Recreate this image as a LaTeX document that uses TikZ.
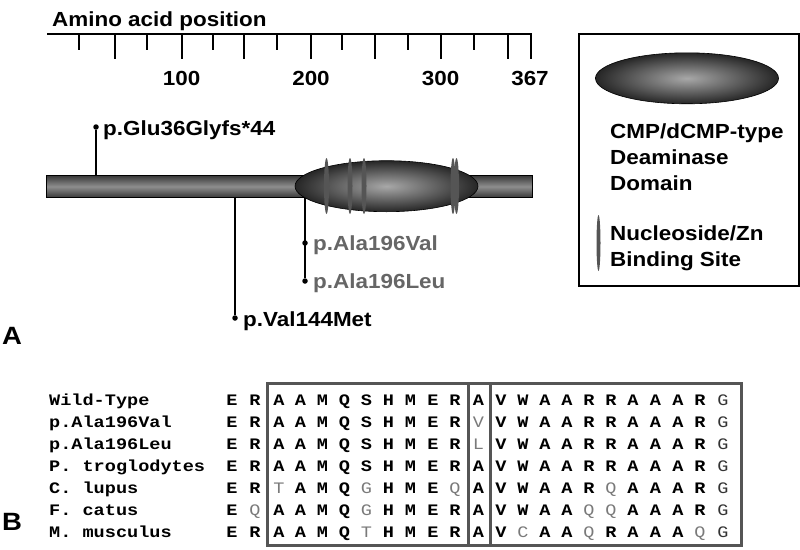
\documentclass[tikz,border=0pt]{standalone}
\usepackage{fontspec}
\setmainfont{Liberation Sans}[FakeStretch=1.1]
\newfontfamily\seqfont{Liberation Mono}[FakeStretch=1.16]
\usetikzlibrary{shapes.geometric}
\definecolor{barDark}{HTML}{3A3A3A}
\definecolor{barLight}{HTML}{8E8E8E}
\definecolor{domDark}{HTML}{262626}
\definecolor{domLight}{HTML}{A8A8A8}
\definecolor{siteGray}{HTML}{555555}
\definecolor{mutGray}{HTML}{666666}
\definecolor{resGray}{HTML}{7A7A7A}
\definecolor{endGray}{HTML}{333333}
\definecolor{boxGray}{HTML}{555555}
\newcommand\resgray[1]{{\mdseries\color{resGray}#1}}
\newcommand\resend[1]{{\mdseries\color{endGray}#1}}
\def\colx{{232,255,279,300.5,322.5,344.5,366.5,388.5,410.5,433,455,478.5,501,523,545,567,589,611,633,655.5,678,700,723}}
\newcommand\resrow[3]{%
  \pgfmathsetmacro\yy{405+22*#1}%
  \node[seqlabel] (lab#1) at (49,\yy) {#2};%
  \foreach \rr [count=\k from 0] in {#3} {%
    \pgfmathsetmacro\xx{\colx[\k]}%
    \node[res] (r#1-\k) at (\xx,\yy) {\rr};%
  }%
}
\tikzset{
  txt/.style={inner sep=0, anchor=base west, font=\bfseries\fontsize{20.4}{24}\selectfont},
  num/.style={inner sep=0, font=\bfseries\fontsize{20.4}{24}\selectfont},
  panel/.style={inner sep=0, font=\bfseries\fontsize{25}{28}\selectfont},
  seqlabel/.style={inner sep=0, anchor=base west, font=\seqfont\bfseries\fontsize{16}{20}\selectfont},
  res/.style={inner sep=0, anchor=base, font=\seqfont\bfseries\fontsize{16}{20}\selectfont},
  ruler/.style={line width=1.7pt},
  stem/.style={line width=1.8pt},
  mutdot/.style={circle, fill=black, inner sep=0, minimum size=5.5pt},
  protbar/.style={rectangle, draw=black, line width=0.6pt, top color=barDark, bottom color=barDark, middle color=barLight, inner sep=0},
  domshape/.style={ellipse, draw=black, line width=0.6pt, inner color=domLight, outer color=domDark, minimum width=183pt, minimum height=51pt, inner sep=0},
  site/.style={ellipse, fill=siteGray, inner sep=0, minimum width=5pt, minimum height=56pt},
  legsite/.style={ellipse, fill=siteGray, inner sep=0, minimum width=4pt, minimum height=56pt},
  alnbox/.style={draw=boxGray, line width=3pt},
}
\begin{document}
\begin{tikzpicture}[x=1pt,y=-1pt]
\useasboundingbox (0,0) rectangle (800,549);
% ---------- ruler ----------
\node[txt] (axislabel) at (52,26) {Amino acid position};
\draw[ruler] (47,34) -- (532,34);
\foreach \t in {79,147,213,277,342,408,474} \draw[ruler] (\t,34) -- (\t,50);
\foreach \t in {115,182,244,311,375,441,508,531} \draw[ruler] (\t,34) -- (\t,59);
\node[num] (n100) at (181.7,78) {100};
\node[num] (n200) at (311,78) {200};
\node[num] (n300) at (440.7,78) {300};
\node[num] (n367) at (530,78) {367};
% ---------- protein ----------
\node[protbar, minimum width=486pt, minimum height=21.5pt] (bar) at (289.5,186.5) {};
% mutations
\node[mutdot] (dGlu) at (96,127) {};
\node[txt] (tGlu) at (103,135) {p.Glu36Glyfs*44};
\draw[stem] (dGlu) -- (dGlu |- bar.north);
\node[mutdot] (dVal) at (235,318) {};
\node[txt] (tVal) at (243,326.5) {p.Val144Met};
\draw[stem] (dVal) -- (dVal |- bar.south);
\node[mutdot] (dA1) at (305,243) {};
\node[mutdot] (dA2) at (305,281) {};
\node[txt, text=mutGray] (tA1) at (313,250) {p.Ala196Val};
\node[txt, text=mutGray] (tA2) at (313,288.3) {p.Ala196Leu};
\coordinate (stemtop) at (305,194);
\draw[stem] (stemtop) -- (dA2);
% domain and sites
\node[domshape] (dom) at (386.5,186.2) {};
\foreach \s/\x in {1/326.5,2/350,3/364,4/453,5/456.5}
  \node[site] (site\s) at (\x,186) {};
% ---------- legend ----------
\draw[line width=2pt] (578.5,34) rectangle (799,285.5);
\node[domshape] (legdom) at (687,78.3) {};
\node[txt] (lg1) at (610,138) {CMP/dCMP-type};
\node[txt] (lg2) at (610,164.5) {Deaminase};
\node[txt] (lg3) at (610,190.5) {Domain};
\node[legsite] (legs) at (598.5,243) {};
\node[txt] (lg4) at (610,240) {Nucleoside/Zn};
\node[txt] (lg5) at (610,266.5) {Binding Site};
% ---------- panel labels ----------
\node[panel] (pA) at (12,336) {A};
\node[panel] (pB) at (12,522) {B};
% ---------- alignment ----------
\draw[alnbox] (267,383.5) rectangle (741,545);
\draw[alnbox] (468,383.5) rectangle (490.5,545);
\resrow{0}{Wild-Type}{E,R,A,A,M,Q,S,H,M,E,R,A,V,W,A,A,R,R,A,A,A,R,\resend{G}}
\resrow{1}{p.Ala196Val}{E,R,A,A,M,Q,S,H,M,E,R,\resgray{V},V,W,A,A,R,R,A,A,A,R,\resend{G}}
\resrow{2}{p.Ala196Leu}{E,R,A,A,M,Q,S,H,M,E,R,\resgray{L},V,W,A,A,R,R,A,A,A,R,\resend{G}}
\resrow{3}{P. troglodytes}{E,R,A,A,M,Q,S,H,M,E,R,A,V,W,A,A,R,R,A,A,A,R,\resend{G}}
\resrow{4}{C. lupus}{E,R,\resgray{T},A,M,Q,\resgray{G},H,M,E,\resgray{Q},A,V,W,A,A,R,\resgray{Q},A,A,A,R,\resend{G}}
\resrow{5}{F. catus}{E,\resgray{Q},A,A,M,Q,\resgray{G},H,M,E,R,A,V,W,A,A,\resgray{Q},\resgray{Q},A,A,A,R,\resend{G}}
\resrow{6}{M. musculus}{E,R,A,A,M,Q,\resgray{T},H,M,E,R,A,V,\resgray{C},A,A,\resgray{Q},R,A,A,A,\resgray{Q},\resend{G}}
\end{tikzpicture}
\end{document}
